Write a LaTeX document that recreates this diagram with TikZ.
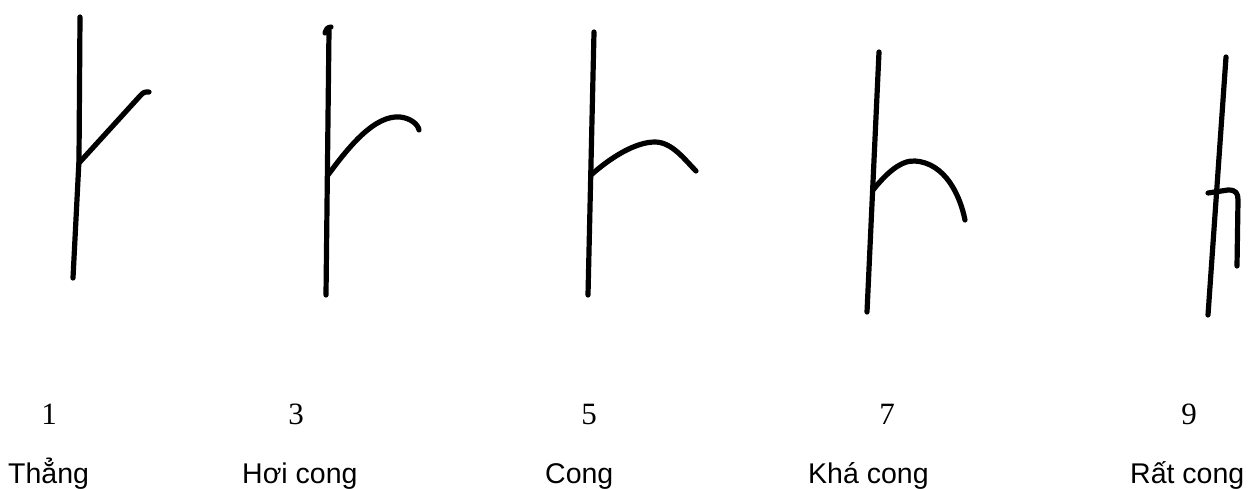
\documentclass[tikz,border=0pt]{standalone}
\usepackage{fontspec}
\setmainfont{Liberation Sans}
\newfontfamily\numfont{Liberation Serif}
\begin{document}
\begin{tikzpicture}[x=1pt,y=-1pt,
  stroke/.style={line width=5.2pt,line cap=round,line join=round,black},
  lbl/.style={anchor=base west,inner sep=0pt,font=\fontsize{28.5}{34}\selectfont},
  num/.style={anchor=base,inner sep=0pt,font=\numfont\fontsize{31}{36}\selectfont}]
\fill[white] (0,0) rectangle (1257,489);
\useasboundingbox (0,0) rectangle (1257,489);
% 1 straight
\draw[stroke] (80,17) -- (79,160) -- (73,278);
\draw[stroke] (79,163) -- (140,96) .. controls (144,92) .. (149,92);
% 3 slightly curved
\draw[stroke] (325,33) .. controls (327,28) .. (331,27);
\draw[stroke] (329,30) -- (326,295);
\draw[stroke] (328,175) .. controls (350,145) and (375,115) .. (400,117) .. controls (410,118) and (418,124) .. (419,130);
% 5 curved
\draw[stroke] (594,32) -- (588,295);
\draw[stroke] (591,175) .. controls (610,158) and (635,142) .. (655,142) .. controls (672,142) and (685,160) .. (696,171);
% 7 quite curved
\draw[stroke] (879,52) -- (867,312);
\draw[stroke] (873,190) .. controls (885,175) and (900,160) .. (915,161) .. controls (945,163) and (960,195) .. (965,220);
% 9 very curved
\draw[stroke] (1226,57) -- (1208,315);
\draw[stroke] (1208,193) -- (1228,190) .. controls (1236,190) and (1238,193) .. (1238,200) -- (1237,266);
% numbers
\node[num] (n1) at (49,424) {1};
\node[num] (n3) at (296,424) {3};
\node[num] (n5) at (589,424) {5};
\node[num] (n7) at (887,424) {7};
\node[num] (n9) at (1189,424) {9};
% labels
\node[lbl] (l1) at (8,483) {Thẳng};
\node[lbl] (l3) at (242,483) {Hơi cong};
\node[lbl] (l5) at (545,483) {Cong};
\node[lbl] (l7) at (808,483) {Khá cong};
\node[lbl] (l9) at (1130,483) {Rất cong};
\end{tikzpicture}
\end{document}
